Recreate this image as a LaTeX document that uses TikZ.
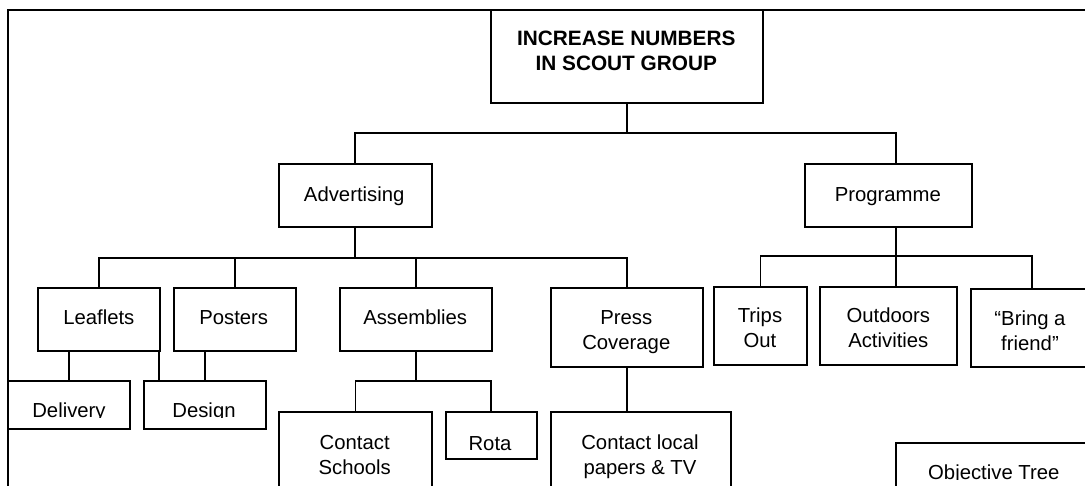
\documentclass[tikz,border=0pt]{standalone}
\usepackage{fontspec}
\setmainfont{Liberation Sans}
\usetikzlibrary{calc}
\newcommand{\twolines}[2]{\begin{tabular}[t]{@{}c@{}}#1\\#2\end{tabular}}
\begin{document}
\begin{tikzpicture}[x=1pt,y=-1pt,
  box/.style={draw, line width=1.8pt, anchor=north west, inner sep=0pt, outer sep=0pt},
  lbl/.style={anchor=base, inner sep=0pt, outer sep=0pt, font=\fontsize{20.3}{25}\selectfont},
  conn/.style={line width=1.8pt},
  line join=miter]
\useasboundingbox (0,0) rectangle (1085,486);
\clip (0,0) rectangle (1085,486);

% outer frame (cropped)
\node[box, minimum width=1112pt, minimum height=510pt] (frame) at (8,10) {};

% boxes
\node[box, minimum width=272pt,   minimum height=93pt]   (root)   at (490.7,10) {};
\node[box, minimum width=152.7pt, minimum height=63pt]   (adv)    at (279,164) {};
\node[box, minimum width=167pt,   minimum height=63pt]   (prog)   at (805,164) {};
\node[box, minimum width=121.4pt, minimum height=62.7pt] (leaf)   at (38.3,288.3) {};
\node[box, minimum width=121.4pt, minimum height=62.7pt] (post)   at (174.3,288.3) {};
\node[box, minimum width=152pt,   minimum height=62.7pt] (assem)  at (339.7,288.3) {};
\node[box, minimum width=152.3pt, minimum height=78.4pt] (press)  at (550.7,288.3) {};
\node[box, minimum width=92.4pt,  minimum height=78.3pt] (trips)  at (714.3,286.7) {};
\node[box, minimum width=137pt,   minimum height=78.3pt] (outd)   at (820,286.7) {};
\node[box, minimum width=121.4pt, minimum height=77.4pt] (bring)  at (971,289.3) {};
\node[box, minimum width=122pt,   minimum height=47.7pt] (deliv)  at (8,381) {};
\node[box, minimum width=121.7pt, minimum height=47.7pt] (design) at (144,381) {};
\node[box, minimum width=152.4pt, minimum height=90pt]   (cs)     at (279.3,412.3) {};
\node[box, minimum width=91pt,    minimum height=47pt]   (rota)   at (445.7,412.3) {};
\node[box, minimum width=180.3pt, minimum height=90pt]   (cl)     at (550.7,412.3) {};
\node[box, minimum width=200pt,   minimum height=60pt]   (obj)    at (895.7,443) {};

% labels
\node[lbl, font=\bfseries\fontsize{20.8}{25}\selectfont] (root-l) at (626.3,46) {\twolines{INCREASE NUMBERS}{IN SCOUT GROUP}};
\node[lbl] (adv-l)   at (354.2,201.7) {Advertising};
\node[lbl] (prog-l)  at (887.8,201.7) {Programme};
\node[lbl] (leaf-l)  at (98.8,325) {Leaflets};
\node[lbl] (post-l)  at (233.7,325) {Posters};
\node[lbl] (assem-l) at (415.2,325) {Assemblies};
\node[lbl] (press-l) at (626.3,325) {\twolines{Press}{Coverage}};
\node[lbl] (trips-l) at (760,322.8) {\twolines{Trips}{Out}};
\node[lbl] (outd-l)  at (888.3,322.8) {\twolines{Outdoors}{Activities}};
\node[lbl] (bring-l) at (1030,325.3) {\twolines{“Bring a}{friend”}};
\node[lbl] (cs-l)    at (354.7,449.3) {\twolines{Contact}{Schools}};
\node[lbl] (rota-l)  at (490,450) {Rota};
\node[lbl] (cl-l)    at (640,449.5) {\twolines{Contact local}{papers \& TV}};
\begin{scope}
  \clip (8,381) rectangle (265.7,417.3);
  \node[lbl] (deliv-l)  at (69,417.3) {Delivery};
  \node[lbl] (design-l) at (204,417.3) {Design};
\end{scope}
\begin{scope}
  \clip (895.7,443) rectangle (1085,479.3);
  \node[lbl] (obj-l) at (993.8,479.3) {Objective Tree};
\end{scope}

% connectors
\draw[conn] (root.south) -- ++(0,30) coordinate (rj);
\coordinate (pn) at ([xshift=7.2pt]prog.north);
\draw[conn] (adv.north) |- (rj) -| (pn);
\draw[conn] (adv.south) -- ++(0,30.7) coordinate (aj);
\draw[conn] (leaf.north) |- (aj) -| (press.north);
\draw[conn] (post.north) -- (post.north |- aj);
\draw[conn] (assem.north) -- (assem.north |- aj);
\coordinate (ps) at ([xshift=7.2pt]prog.south);
\draw[conn] (ps) -- (ps |- outd.north);
\draw[conn] (trips.north) -- ++(0,-31) -| (bring.north);
\draw[conn] (deliv.north) -- (deliv.north |- leaf.south);
\coordinate (le) at ([xshift=-0.7pt]leaf.south east);
\draw[conn] (le) -- (le |- design.north);
\draw[conn] (design.north) -- (design.north |- post.south);
\draw[conn] (assem.south) -- ++(0,30) coordinate (sj);
\draw[conn] (cs.north) |- (sj) -| (rota.north);
\draw[conn] (press.south) -- (press.south |- cl.north);
\end{tikzpicture}
\end{document}
